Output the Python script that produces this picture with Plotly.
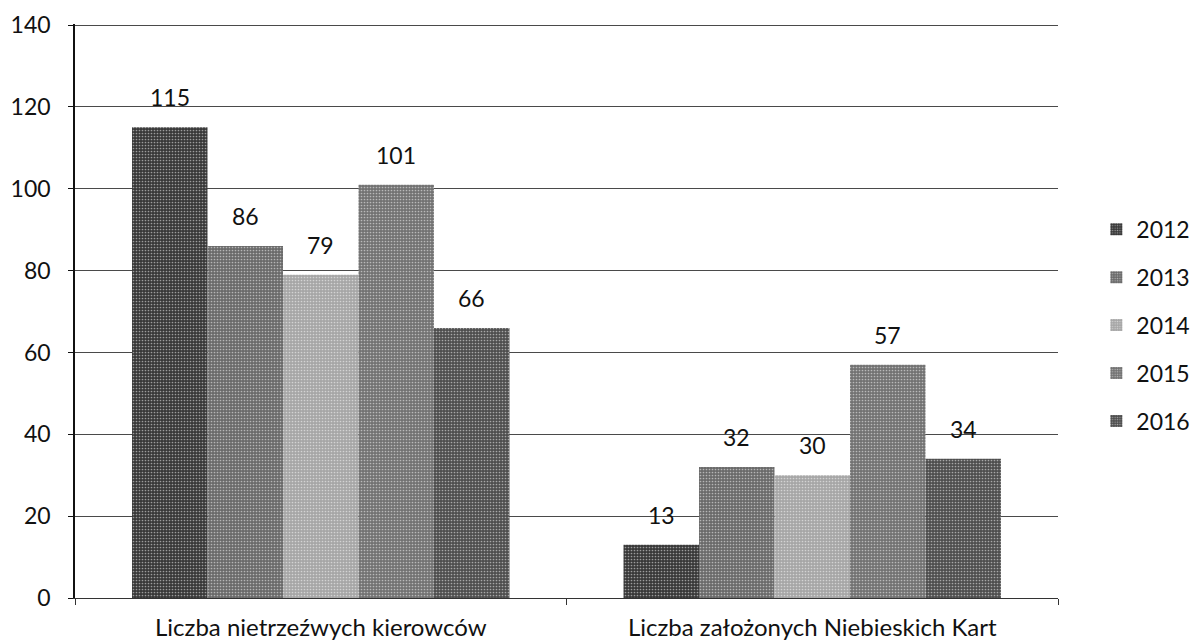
import plotly.graph_objects as go

categories = ["Liczba nietrzeźwych kierowców", "Liczba założonych Niebieskich Kart"]
years = ["2012", "2013", "2014", "2015", "2016"]
values = {
    "2012": [115, 13],
    "2013": [86, 32],
    "2014": [79, 30],
    "2015": [101, 57],
    "2016": [66, 34],
}
colors = {
    "2012": "#383838",
    "2013": "#6a6a6a",
    "2014": "#a6a6a6",
    "2015": "#727272",
    "2016": "#4e4e4e",
}
y_ticks = [0, 20, 40, 60, 80, 100, 120, 140]

FONT = "Lato, 'Open Sans', sans-serif"

fig = go.Figure()
for i, yr in enumerate(years):
    fig.add_trace(go.Bar(
        name=yr, x=categories, y=values[yr], legendgroup=yr,
        offsetgroup=yr,
        marker=dict(color=colors[yr], line=dict(width=0),
                    pattern=dict(shape=".", size=3, solidity=0.25, fgcolor="#ffffff", fillmode="overlay")),
    ))

fig.update_layout(
    barmode="group", bargap=0.232, bargroupgap=0,
    width=1199, height=643,
    margin=dict(l=67, r=134, t=16, b=53),
    plot_bgcolor="white", paper_bgcolor="white",
    font=dict(family=FONT, size=23, color="#111111"),
    legend=dict(x=1.039, y=0.475, xanchor="left", yanchor="middle",
                font=dict(size=23, family=FONT), itemwidth=30,
                tracegroupgap=15, traceorder="grouped", bgcolor="rgba(0,0,0,0)"),
)

# data labels placed above each bar via the axes' scales
n = len(years)
group_w = 1 - 0.232
bar_w = group_w / n
for i, yr in enumerate(years):
    for j, cat in enumerate(categories):
        v = values[yr][j]
        fig.add_annotation(
            x=j - group_w / 2 + bar_w * (i + 0.5), y=v, xref="x", yref="y",
            text=str(v), showarrow=False, yanchor="bottom", yshift=14,
            font=dict(size=23, family=FONT, color="#111111"),
        )

fig.update_yaxes(range=[0, 140.25], tickvals=y_ticks, showgrid=True, gridcolor="#4a4a4a",
                 gridwidth=1, showline=True, linecolor="#111111", linewidth=1.5,
                 ticks="outside", ticklen=5, tickcolor="#111111", zeroline=False,
                 tickfont=dict(size=23, family=FONT), ticklabelstandoff=13, automargin=False,
                 ticklabeloverflow="allow")
fig.update_xaxes(range=[-0.5, 1.5], showline=True, linecolor="#333333", linewidth=1, ticks="outside",
                 tickson="boundaries", ticklen=6, tickcolor="#333333",
                 tickfont=dict(size=24, family=FONT), ticklabelstandoff=8, automargin=False,
                 ticklabeloverflow="allow")

fig.write_html("out.html")
